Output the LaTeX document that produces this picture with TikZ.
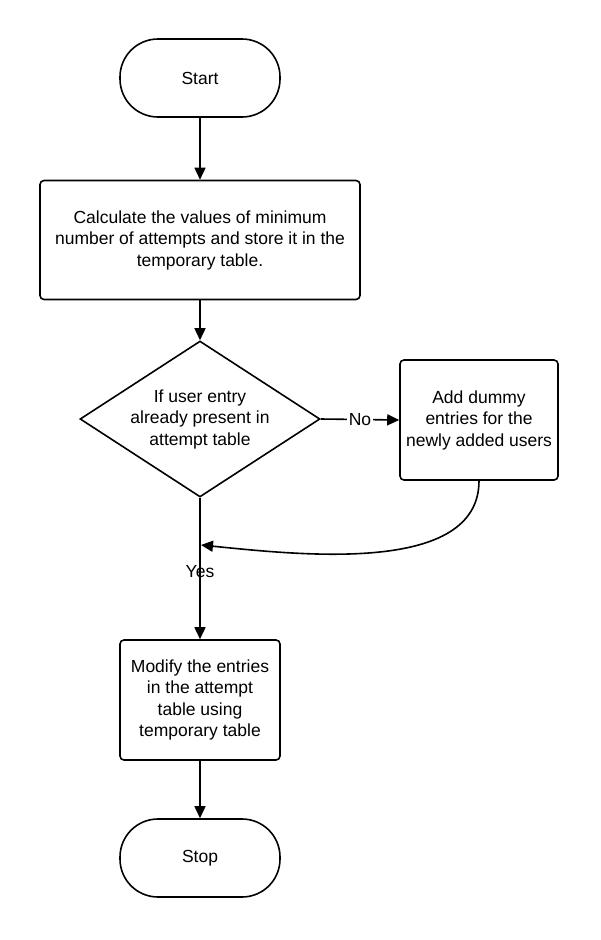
\documentclass[tikz,border=0pt]{standalone}
\usepackage{fontspec}
\setmainfont{Liberation Sans}
\usetikzlibrary{arrows.meta,shapes.geometric}
\begin{document}
\begin{tikzpicture}[x=1pt,y=-1pt,
  every node/.style={font=\fontsize{17.5}{21.5}\selectfont, align=center},
  terminal/.style={draw, line width=1.6pt, rounded corners=38pt, minimum width=160pt, minimum height=78pt, inner sep=0pt},
  proc/.style={draw, line width=1.6pt, rounded corners=4pt, inner sep=0pt},
  decision/.style={draw, line width=1.6pt, diamond, aspect=1.54, minimum width=240pt, minimum height=156pt, inner sep=0pt},
  conn/.style={line width=1.6pt, -{Triangle[length=12pt,width=11pt]}},
  plain/.style={line width=1.6pt}]
\useasboundingbox (0,0) rectangle (600,940);
\node[terminal] (start) at (200,78) {Start};
\node[proc, minimum width=320pt, minimum height=119pt] (calc) at (200,240) {Calculate the values of minimum\\number of attempts and store it in the\\temporary table.};
\node[decision] (dec) at (200,419) {If user entry\\already present in\\attempt table};
\node[proc, minimum width=158pt, minimum height=120pt] (add) at (479,420) {Add dummy\\entries for the\\newly added users};
\node[proc, minimum width=160pt, minimum height=120pt] (mod) at (200,700) {Modify the entries\\in the attempt\\table using\\temporary table};
\node[terminal] (stop) at (200,858) {Stop};
\coordinate (j) at (201,545);
\draw[conn] (start) -- (calc);
\draw[conn] (calc) -- (dec);
\draw[conn] (dec.east) -- node[fill=white, inner sep=2pt] {No} (add.west);
\draw[conn] (add.south) .. controls (479,575) and (300,555) .. (j);
\draw[conn] (dec.south) -- node[pos=0.52, inner sep=1pt] {Yes} (mod.north);
\draw[conn] (mod) -- (stop);
\end{tikzpicture}
\end{document}
